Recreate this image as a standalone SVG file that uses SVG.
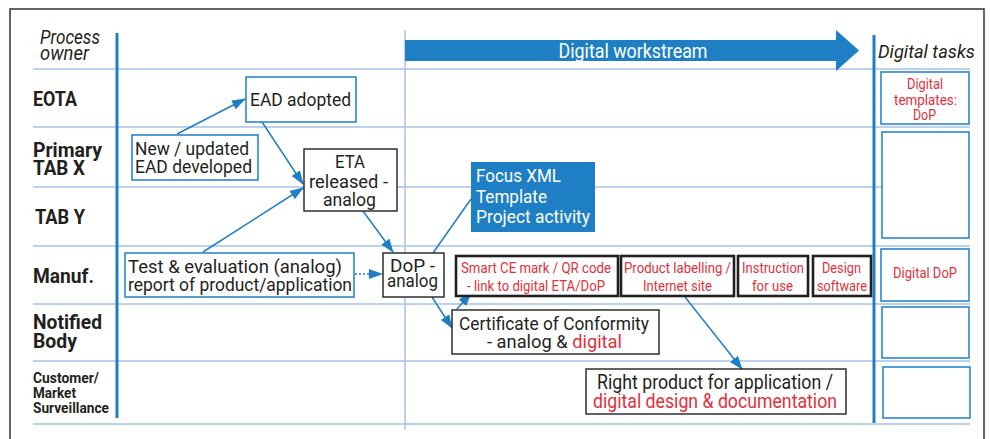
<svg xmlns="http://www.w3.org/2000/svg" width="990" height="439" viewBox="0 0 990 439">
<defs>
<style>
.t{font-family:Roboto,"Liberation Sans",sans-serif;fill:#231f20;}
.b{font-weight:bold;}
.i{font-style:italic;}
.m{text-anchor:middle;}
.r{fill:#e0313b;}
.w{fill:#ffffff;}
.grid{stroke:#a3c3e6;stroke-width:1.5;fill:none;}
.bluebox{fill:#ffffff;stroke:#2b87cc;stroke-width:1.6;}
.blackbox{fill:#ffffff;stroke:#231f20;stroke-width:1.4;}
.thickbox{fill:#ffffff;stroke:#231f20;stroke-width:2.6;}
.con{stroke:#1f7fc4;stroke-width:1.5;fill:none;}
</style>
<marker id="ah" viewBox="0 0 14 10" refX="13" refY="5" markerWidth="14" markerHeight="10" markerUnits="userSpaceOnUse" orient="auto">
<path d="M0,0 L14,5 L0,10 z" fill="#1f7fc4"/>
</marker>
</defs>
<rect x="0" y="0" width="990" height="439" fill="#ffffff"/>
<rect x="10" y="9" width="974" height="440" fill="none" stroke="#333333" stroke-width="1.5"/>
<g id="grid">
<line class="grid" x1="33" y1="69" x2="970" y2="69"/>
<line class="grid" x1="33" y1="127" x2="970" y2="127"/>
<line class="grid" x1="33" y1="187" x2="970" y2="187"/>
<line class="grid" x1="33" y1="246" x2="970" y2="246"/>
<line class="grid" x1="33" y1="304" x2="970" y2="304"/>
<line class="grid" x1="33" y1="361" x2="970" y2="361"/>
<line class="grid" x1="33" y1="424" x2="970" y2="424"/>
<line class="grid" x1="405" y1="30" x2="405" y2="430"/>
<line x1="117" y1="33" x2="117" y2="418" stroke="#1f7fc4" stroke-width="3"/>
<line x1="874" y1="35" x2="874" y2="423" stroke="#1f7fc4" stroke-width="3"/>
</g>
<g id="headers">
<text class="t i" font-size="20"><tspan x="40" y="44" textLength="60" lengthAdjust="spacingAndGlyphs">Process</tspan><tspan x="40" y="60" textLength="49" lengthAdjust="spacingAndGlyphs">owner</tspan></text>
<polygon points="405,40 836,40 836,30 859,50.5 836,71 836,61 405,61" fill="#1e7fc4"/>
<text class="t w m" x="633" y="58" font-size="20" textLength="149" lengthAdjust="spacingAndGlyphs">Digital workstream</text>
<text class="t i" x="878" y="58" font-size="19" textLength="97" lengthAdjust="spacingAndGlyphs">Digital tasks</text>
</g>
<g id="row-labels">
<text class="t b" x="33" y="106" font-size="21" textLength="44" lengthAdjust="spacingAndGlyphs">EOTA</text>
<text class="t b" font-size="21"><tspan x="33" y="157" textLength="69" lengthAdjust="spacingAndGlyphs">Primary</tspan><tspan x="33" y="175" textLength="52" lengthAdjust="spacingAndGlyphs">TAB X</tspan></text>
<text class="t b" x="35" y="224" font-size="21" textLength="50" lengthAdjust="spacingAndGlyphs">TAB Y</text>
<text class="t b" x="33" y="283" font-size="21" textLength="61" lengthAdjust="spacingAndGlyphs">Manuf.</text>
<text class="t b" font-size="21"><tspan x="33" y="329" textLength="69" lengthAdjust="spacingAndGlyphs">Notified</tspan><tspan x="33" y="348" textLength="44" lengthAdjust="spacingAndGlyphs">Body</tspan></text>
<text class="t b" font-size="14"><tspan x="33" y="383" textLength="66" lengthAdjust="spacingAndGlyphs">Customer/</tspan><tspan x="33" y="398" textLength="43" lengthAdjust="spacingAndGlyphs">Market</tspan><tspan x="33" y="413" textLength="76" lengthAdjust="spacingAndGlyphs">Surveillance</tspan></text>
</g>
<g id="connectors">
<line class="con" x1="177" y1="134" x2="245" y2="99" marker-end="url(#ah)"/>
<line class="con" x1="262" y1="122" x2="303" y2="184" marker-end="url(#ah)"/>
<line class="con" x1="203" y1="252" x2="303" y2="188" marker-end="url(#ah)"/>
<line class="con" x1="363" y1="211" x2="393" y2="252" marker-end="url(#ah)"/>
<line class="con" x1="355" y1="274" x2="382" y2="274" stroke-dasharray="2,2" marker-end="url(#ah)"/>
<line class="con" x1="433" y1="253" x2="471" y2="199"/>
<line class="con" x1="432" y1="297" x2="452" y2="328" marker-end="url(#ah)"/>
<line class="con" x1="457" y1="309" x2="471" y2="293" marker-end="url(#ah)"/>
<line class="con" x1="685" y1="297" x2="742" y2="369" marker-end="url(#ah)"/>
</g>
<g id="ead-adopted">
<rect class="bluebox" x="246" y="77" width="110" height="45"/>
<text class="t" x="250" y="106" font-size="19" textLength="101" lengthAdjust="spacingAndGlyphs">EAD adopted</text>
</g>
<g id="ead-developed">
<rect class="bluebox" x="132" y="135" width="126" height="45"/>
<text class="t" font-size="19"><tspan x="135" y="155" textLength="114" lengthAdjust="spacingAndGlyphs">New / updated</tspan><tspan x="135" y="173" textLength="117" lengthAdjust="spacingAndGlyphs">EAD developed</tspan></text>
</g>
<g id="eta-released">
<rect class="blackbox" x="304" y="149" width="93" height="62"/>
<text class="t m" font-size="19"><tspan x="350" y="168" textLength="30" lengthAdjust="spacingAndGlyphs">ETA</tspan><tspan x="348.5" y="188" textLength="79" lengthAdjust="spacingAndGlyphs">released -</tspan><tspan x="349.5" y="206" textLength="53" lengthAdjust="spacingAndGlyphs">analog</tspan></text>
</g>
<g id="test-evaluation">
<rect class="bluebox" x="125" y="253" width="229" height="44"/>
<text class="t" font-size="19"><tspan x="128" y="273" textLength="214" lengthAdjust="spacingAndGlyphs">Test &amp; evaluation (analog)</tspan><tspan x="128" y="291" textLength="224" lengthAdjust="spacingAndGlyphs">report of product/application</tspan></text>
</g>
<g id="dop-analog">
<rect class="blackbox" x="383" y="253" width="61" height="44"/>
<text class="t m" font-size="19"><tspan x="412.5" y="272" textLength="45" lengthAdjust="spacingAndGlyphs">DoP -</tspan><tspan x="412.5" y="287" textLength="51" lengthAdjust="spacingAndGlyphs">analog</tspan></text>
</g>
<g id="focus-xml">
<rect x="471" y="162" width="124" height="70" fill="#1e7fc4"/>
<text class="t w" font-size="19"><tspan x="476" y="182" textLength="85" lengthAdjust="spacingAndGlyphs">Focus XML</tspan><tspan x="476" y="203" textLength="71" lengthAdjust="spacingAndGlyphs">Template</tspan><tspan x="476" y="223" textLength="114" lengthAdjust="spacingAndGlyphs">Project activity</tspan></text>
</g>
<g id="smart-ce">
<rect class="thickbox" x="456" y="256" width="162" height="40"/>
<text class="t r m" font-size="15"><tspan x="536" y="272.5" textLength="150" lengthAdjust="spacingAndGlyphs">Smart CE mark / QR code</tspan><tspan x="536" y="291" textLength="138" lengthAdjust="spacingAndGlyphs">- link to digital ETA/DoP</tspan></text>
</g>
<g id="product-labelling">
<rect class="thickbox" x="621" y="256" width="113" height="40"/>
<text class="t r m" font-size="15"><tspan x="677.5" y="272.5" textLength="107" lengthAdjust="spacingAndGlyphs">Product labelling /</tspan><tspan x="677.5" y="291" textLength="69" lengthAdjust="spacingAndGlyphs">Internet site</tspan></text>
</g>
<g id="instruction">
<rect class="thickbox" x="738" y="256" width="70" height="40"/>
<text class="t r m" font-size="15"><tspan x="773" y="272.5" textLength="62" lengthAdjust="spacingAndGlyphs">Instruction</tspan><tspan x="772.5" y="291" textLength="41" lengthAdjust="spacingAndGlyphs">for use</tspan></text>
</g>
<g id="design-software">
<rect class="thickbox" x="813" y="256" width="58" height="40"/>
<text class="t r m" font-size="15"><tspan x="841.5" y="272.5" textLength="39" lengthAdjust="spacingAndGlyphs">Design</tspan><tspan x="842" y="291" textLength="50" lengthAdjust="spacingAndGlyphs">software</tspan></text>
</g>
<g id="certificate">
<rect class="blackbox" x="452" y="310" width="207" height="44"/>
<text class="t m" font-size="19"><tspan x="554" y="330" textLength="190" lengthAdjust="spacingAndGlyphs">Certificate of Conformity</tspan><tspan x="554.5" y="348" textLength="135" lengthAdjust="spacingAndGlyphs">- analog &amp; <tspan class="r">digital</tspan></tspan></text>
</g>
<g id="right-product">
<rect class="blackbox" x="586" y="369" width="260" height="45"/>
<text class="t m" font-size="20"><tspan x="715" y="389" textLength="236" lengthAdjust="spacingAndGlyphs">Right product for application /</tspan><tspan class="r" x="715" y="408" textLength="244" lengthAdjust="spacingAndGlyphs">digital design &amp; documentation</tspan></text>
</g>
<g id="digital-templates">
<rect class="bluebox" x="881" y="72" width="88" height="52"/>
<text class="t r m" font-size="15"><tspan x="925" y="89" textLength="36" lengthAdjust="spacingAndGlyphs">Digital</tspan><tspan x="925.5" y="104.5" textLength="63" lengthAdjust="spacingAndGlyphs">templates:</tspan><tspan x="924.5" y="120" textLength="23" lengthAdjust="spacingAndGlyphs">DoP</tspan></text>
</g>
<g id="task-tab">
<rect class="bluebox" x="882" y="132" width="87" height="106"/>
</g>
<g id="digital-dop">
<rect class="bluebox" x="881" y="249" width="88" height="52"/>
<text class="t r m" x="925" y="278" font-size="15" textLength="64" lengthAdjust="spacingAndGlyphs">Digital DoP</text>
</g>
<g id="task-nb">
<rect class="bluebox" x="882" y="307" width="87" height="51"/>
</g>
<g id="task-customer">
<rect class="bluebox" x="883" y="367" width="87" height="51"/>
</g>
</svg>
